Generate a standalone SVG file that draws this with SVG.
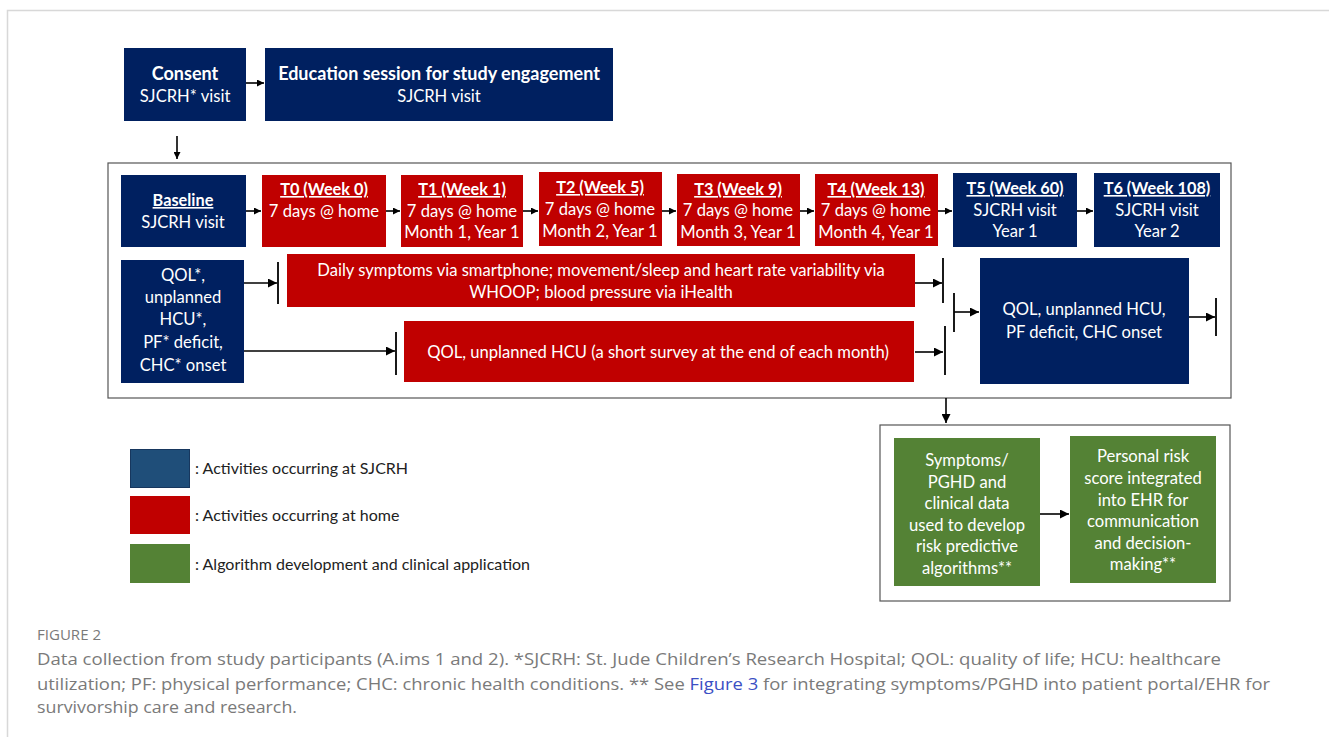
<svg xmlns="http://www.w3.org/2000/svg" width="1329" height="737" viewBox="0 0 1329 737">
  <defs>
    <marker id="ah" viewBox="0 0 10 10" refX="10" refY="5" markerWidth="7" markerHeight="7" markerUnits="userSpaceOnUse" orient="auto">
      <path d="M0,0 L10,5 L0,10 z" fill="#000"/>
    </marker>
    <marker id="ahs" viewBox="0 0 10 10" refX="10" refY="5" markerWidth="9" markerHeight="9" markerUnits="userSpaceOnUse" orient="auto">
      <path d="M0,0 L10,5 L0,10 z" fill="#000"/>
    </marker>
  </defs>
  <style>
    .navy { fill: #002060; }
    .red { fill: #C00000; }
    .green { fill: #548235; }
    .t { font-family: Lato, "Open Sans", "Liberation Sans", sans-serif; font-size: 16.6px; fill: #fff; text-anchor: middle; }
    .b { font-weight: bold; font-size: 16.3px; }
    .big { font-size: 18px; }
    .u { text-decoration: underline; }
    .frame { fill: none; stroke: #555; stroke-width: 1.2; }
    .ln { stroke: #000; stroke-width: 1.6; fill: none; }
    .bar { stroke: #000; stroke-width: 1.8; }
    .leg { font-family: Lato, "Open Sans", "Liberation Sans", sans-serif; font-size: 16px; fill: #222; }
    .cap { font-family: "Liberation Sans Narrow", "Open Sans", "Liberation Sans", sans-serif; font-size: 17px; fill: #7a7a7a; }
  </style>

  <rect width="1329" height="737" fill="#fff"/>
  <!-- card edges -->
  <path d="M7.5,737 V10.5 H1329" fill="none" stroke="#d8d8d8" stroke-width="1.5"/>

  <!-- frames -->
  <rect class="frame" x="108" y="163" width="1123" height="235"/>
  <rect class="frame" x="880" y="425" width="350" height="176"/>

  <!-- top row -->
  <g id="consent">
    <rect class="navy" x="124" y="48" width="122" height="73"/>
    <text class="t b big" x="185" y="80">Consent</text>
    <text class="t" x="185" y="102">SJCRH* visit</text>
  </g>
  <g id="education">
    <rect class="navy" x="265" y="48" width="348" height="73"/>
    <text class="t b big" x="439" y="80">Education session for study engagement</text>
    <text class="t" x="439" y="102">SJCRH visit</text>
  </g>

  <!-- timeline -->
  <g id="baseline">
    <rect class="navy" x="121" y="175" width="125" height="72"/>
    <text class="t b u" x="183" y="206">Baseline</text>
    <text class="t" x="183" y="228">SJCRH visit</text>
  </g>
  <g id="t0">
    <rect class="red" x="262" y="175" width="124" height="72"/>
    <text class="t b u" x="324" y="195">T0 (Week 0)</text>
    <text class="t" x="324" y="217">7 days @ home</text>
  </g>
  <g id="t1">
    <rect class="red" x="401" y="175" width="122" height="72"/>
    <text class="t b u" x="462" y="195">T1 (Week 1)</text>
    <text class="t" x="462" y="217">7 days @ home</text>
    <text class="t" x="462" y="238">Month 1, Year 1</text>
  </g>
  <g id="t2">
    <rect class="red" x="539" y="172" width="123" height="74"/>
    <text class="t b u" x="600" y="193">T2 (Week 5)</text>
    <text class="t" x="600" y="215">7 days @ home</text>
    <text class="t" x="600" y="237">Month 2, Year 1</text>
  </g>
  <g id="t3">
    <rect class="red" x="677" y="174" width="123" height="72"/>
    <text class="t b u" x="738" y="195">T3 (Week 9)</text>
    <text class="t" x="738" y="216">7 days @ home</text>
    <text class="t" x="738" y="238">Month 3, Year 1</text>
  </g>
  <g id="t4">
    <rect class="red" x="815" y="174" width="123" height="72"/>
    <text class="t b u" x="876" y="195">T4 (Week 13)</text>
    <text class="t" x="876" y="216">7 days @ home</text>
    <text class="t" x="876" y="238">Month 4, Year 1</text>
  </g>
  <g id="t5">
    <rect class="navy" x="953" y="173" width="124" height="74"/>
    <text class="t b u" x="1015" y="194">T5 (Week 60)</text>
    <text class="t" x="1015" y="216">SJCRH visit</text>
    <text class="t" x="1015" y="237">Year 1</text>
  </g>
  <g id="t6">
    <rect class="navy" x="1094" y="173" width="126" height="74"/>
    <text class="t b u" x="1157" y="194">T6 (Week 108)</text>
    <text class="t" x="1157" y="216">SJCRH visit</text>
    <text class="t" x="1157" y="237">Year 2</text>
  </g>

  <!-- measures -->
  <g id="baseline-measures">
    <rect class="navy" x="121" y="260" width="123" height="123"/>
    <text class="t" x="183" y="281">QOL*,</text>
    <text class="t" x="183" y="303">unplanned</text>
    <text class="t" x="183" y="325">HCU*,</text>
    <text class="t" x="183" y="348">PF* deficit,</text>
    <text class="t" x="183" y="371">CHC* onset</text>
  </g>
  <g id="daily">
    <rect class="red" x="287" y="254" width="628" height="53"/>
    <text class="t" x="601" y="276">Daily symptoms via smartphone; movement/sleep and heart rate variability via</text>
    <text class="t" x="601" y="298">WHOOP; blood pressure via iHealth</text>
  </g>
  <g id="monthly">
    <rect class="red" x="404" y="321" width="510" height="61"/>
    <text class="t" x="658" y="358">QOL, unplanned HCU (a short survey at the end of each month)</text>
  </g>
  <g id="followup-measures">
    <rect class="navy" x="980" y="258" width="209" height="126"/>
    <text class="t" x="1084" y="315">QOL, unplanned HCU,</text>
    <text class="t" x="1084" y="338">PF deficit, CHC onset</text>
  </g>

  <!-- algorithm -->
  <g id="algorithms">
    <rect class="green" x="894" y="438" width="146" height="148"/>
    <text class="t" x="967" y="466">Symptoms/</text>
    <text class="t" x="967" y="488">PGHD and</text>
    <text class="t" x="967" y="509">clinical data</text>
    <text class="t" x="967" y="531">used to develop</text>
    <text class="t" x="967" y="552">risk predictive</text>
    <text class="t" x="967" y="574">algorithms**</text>
  </g>
  <g id="risk-score">
    <rect class="green" x="1070" y="436" width="146" height="147"/>
    <text class="t" x="1143" y="462">Personal risk</text>
    <text class="t" x="1143" y="484">score integrated</text>
    <text class="t" x="1143" y="506">into EHR for</text>
    <text class="t" x="1143" y="527">communication</text>
    <text class="t" x="1143" y="549">and decision-</text>
    <text class="t" x="1143" y="570">making**</text>
  </g>

  <!-- connectors -->
  <g id="connectors">
    <line class="ln" x1="246" y1="83" x2="264" y2="83" marker-end="url(#ah)"/>
    <line class="ln" x1="177" y1="136" x2="177" y2="159" marker-end="url(#ah)"/>

    <line class="ln" x1="246" y1="211" x2="261" y2="211" marker-end="url(#ah)"/>
    <line class="ln" x1="386" y1="211" x2="400" y2="211" marker-end="url(#ah)"/>
    <line class="ln" x1="523" y1="211" x2="538" y2="211" marker-end="url(#ah)"/>
    <line class="ln" x1="662" y1="211" x2="676" y2="211" marker-end="url(#ah)"/>
    <line class="ln" x1="800" y1="211" x2="814" y2="211" marker-end="url(#ah)"/>
    <line class="ln" x1="938" y1="211" x2="952" y2="211" marker-end="url(#ah)"/>
    <line class="ln" x1="1077" y1="211" x2="1093" y2="211" marker-end="url(#ah)"/>

    <line class="ln" x1="244" y1="283" x2="277" y2="283" marker-end="url(#ahs)"/>
    <line class="bar" x1="278" y1="262" x2="278" y2="304"/>
    <line class="ln" x1="244" y1="351" x2="395" y2="351" marker-end="url(#ahs)"/>
    <line class="bar" x1="396" y1="332" x2="396" y2="375"/>

    <line class="ln" x1="915" y1="283" x2="942" y2="283" marker-end="url(#ahs)"/>
    <line class="bar" x1="943" y1="258" x2="943" y2="303"/>
    <line class="ln" x1="915" y1="352" x2="943" y2="352" marker-end="url(#ahs)"/>
    <line class="bar" x1="945" y1="326" x2="945" y2="375"/>
    <line class="bar" x1="954" y1="293" x2="954" y2="332"/>
    <line class="ln" x1="954" y1="312" x2="979" y2="312" marker-end="url(#ahs)"/>
    <line class="ln" x1="1189" y1="317" x2="1215" y2="317" marker-end="url(#ahs)"/>
    <line class="bar" x1="1216" y1="298" x2="1216" y2="336"/>

    <line class="ln" x1="946" y1="398" x2="946" y2="423" marker-end="url(#ahs)"/>
    <line class="ln" x1="1040" y1="514" x2="1069" y2="514" marker-end="url(#ahs)"/>
  </g>

  <!-- legend -->
  <g id="legend">
    <rect x="130.5" y="449.5" width="59" height="38" fill="#1F4E79" stroke="#17375E" stroke-width="1"/>
    <rect x="130" y="496" width="60" height="38" fill="#C00000"/>
    <rect x="130" y="544" width="60" height="39" fill="#548235"/>
    <text class="leg" x="195" y="474">: Activities occurring at SJCRH</text>
    <text class="leg" x="195" y="521">: Activities occurring at home</text>
    <text class="leg" x="195" y="570">: Algorithm development and clinical application</text>
  </g>

  <!-- caption -->
  <g id="caption">
    <text class="cap" x="37" y="640" style="font-size:14px" textLength="64" lengthAdjust="spacingAndGlyphs">FIGURE 2</text>
    <text class="cap" x="37" y="665" textLength="1184" lengthAdjust="spacingAndGlyphs">Data collection from study participants (A.ims 1 and 2). *SJCRH: St. Jude Children’s Research Hospital; QOL: quality of life; HCU: healthcare</text>
    <text class="cap" x="37" y="690" textLength="1233" lengthAdjust="spacingAndGlyphs">utilization; PF: physical performance; CHC: chronic health conditions. ** See <tspan fill="#3b4fc4">Figure 3</tspan> for integrating symptoms/PGHD into patient portal/EHR for</text>
    <text class="cap" x="37" y="713" textLength="260" lengthAdjust="spacingAndGlyphs">survivorship care and research.</text>
  </g>
</svg>
